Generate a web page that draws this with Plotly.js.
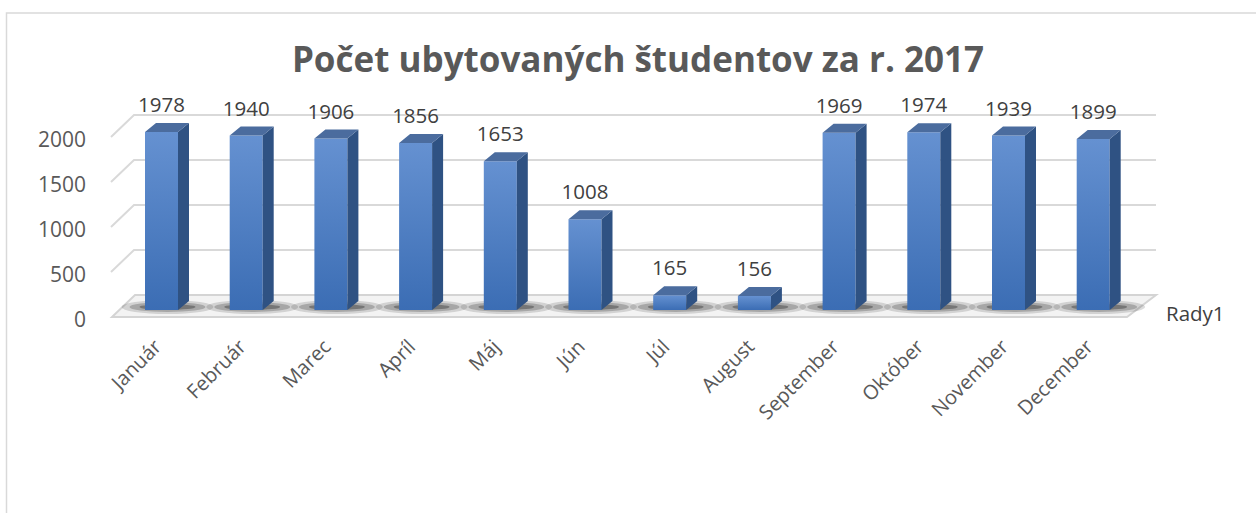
<!DOCTYPE html>
<html>
<head>
<meta charset="utf-8">
<script src="https://cdn.plot.ly/plotly-3.0.1.min.js"></script>
<style>
  html, body { margin: 0; padding: 0; background: #ffffff; }
  #chart { width: 1256px; height: 513px; }
</style>
</head>
<body>
<div id="chart"></div>
<script>
// ---- data ----
const months = ["Január", "Február", "Marec", "Apríl", "Máj", "Jún", "Júl", "August", "September", "Október", "November", "December"];
const students = [1978, 1940, 1906, 1856, 1653, 1008, 165, 156, 1969, 1974, 1939, 1899];
const yTicks = [0, 500, 1000, 1500, 2000];
const seriesName = "Rady1";
const chartTitle = "Počet ubytovaných študentov za r. 2017";

// ---- geometry (pixel <-> data helpers for the 3D look) ----
const W = 1256, H = 513;
const M = { l: 100, r: 96, t: 100, b: 193 };
const plotW = W - M.l - M.r, plotH = H - M.t - M.b;
const x0px = 161.5, xStep = 84.7;           // bar centre of first category, spacing
const yBase = 310, yScale = 0.09;           // bar plane: px = yBase - yScale*v
const X = px => (px - x0px) / xStep;
const Y = py => (yBase - py) / yScale;
const PX = px => (px - M.l) / plotW;         // paper x
const PY = py => (M.t + plotH - py) / plotH; // paper y
const labelBase = 320;                      // front plane for the value-axis labels

const idx = months.map((_, i) => i);
const barW = 33 / xStep;
const ddx = 11 / xStep, ddy = 9 / yScale;   // depth offsets

// side and top faces built from the data
const sideX = [], sideY = [], topX = [], topY = [];
idx.forEach(i => {
  const v = students[i];
  const xl = i - barW / 2, xr = i + barW / 2;
  sideX.push(xr, xr + ddx, xr + ddx, xr, xr, null);
  sideY.push(0, ddy, v + ddy, v, 0, null);
  topX.push(xl, xl + ddx, xr + ddx, xr, xl, null);
  topY.push(v, v + ddy, v + ddy, v, v, null);
});

const font = "Open Sans, sans-serif";

const traces = [
  {
    type: "bar", x: idx, y: students, width: barW, name: seriesName,
    marker: { color: "#4a7cc2", line: { width: 0 } }, showlegend: false, hoverinfo: "x+y"
  },
  {
    type: "scatter", mode: "lines", x: sideX, y: sideY, fill: "toself",
    fillcolor: "#2f5283", line: { width: 0, color: "rgba(0,0,0,0)" }, showlegend: false, hoverinfo: "skip"
  },
  {
    type: "scatter", mode: "lines", x: topX, y: topY, fill: "toself",
    fillcolor: "#4b6c9e", line: { width: 0, color: "rgba(0,0,0,0)" }, showlegend: false, hoverinfo: "skip"
  },
  {
    type: "scatter", mode: "text", x: idx, y: students.map(v => v + 25 / yScale),
    text: students.map(String), textposition: "middle center", cliponaxis: false,
    textfont: { family: font, size: 20.5, color: "#404040" },
    showlegend: false, hoverinfo: "skip"
  },
  // invisible trace to drive the tick-label axis on the front plane
  {
    type: "scatter", mode: "markers", x: [idx[0]], y: [0], yaxis: "y2",
    marker: { opacity: 0 }, showlegend: false, hoverinfo: "skip"
  }
];

// ---- decorations: floor, shadows, back-wall gridlines, border ----
const shapes = [];
// floor
shapes.push({
  type: "path", xref: "x", yref: "y", layer: "below",
  path: `M ${X(112)} ${Y(317)} L ${X(1127)} ${Y(317)} L ${X(1156)} ${Y(295)} L ${X(135)} ${Y(295)} Z`,
  fillcolor: "#f3f3f3", line: { color: "#d4d4d4", width: 2 }
});
// shadows under the bars
idx.forEach(i => {
  const cx = i + 6 / xStep;
  [[46, 7, 0.16], [38, 5, 0.25], [28, 3, 0.38]].forEach(([hw, hh, op]) => {
    shapes.push({
      type: "circle", xref: "x", yref: "y", layer: "below",
      x0: cx - hw / xStep, x1: cx + hw / xStep, y0: Y(307 + hh), y1: Y(307 - hh),
      fillcolor: `rgba(40,40,40,${op})`, line: { width: 0 }
    });
  });
});
// gridlines (side wall diagonal + back wall)
yTicks.forEach(v => {
  if (v === 0) return;
  const fy = 317 - 0.09 * v, by = 295 - 0.09 * v;
  shapes.push({
    type: "path", xref: "x", yref: "y", layer: "below",
    path: `M ${X(111)} ${Y(fy)} L ${X(134)} ${Y(by)} L ${X(1156)} ${Y(by)}`,
    line: { color: "#d9d9d9", width: 2 }
  });
});
// chart border
shapes.push({
  type: "rect", xref: "paper", yref: "paper", layer: "below",
  x0: PX(6.5), x1: PX(1262), y0: PY(520), y1: PY(13),
  line: { color: "#d9d9d9", width: 1.5 }, fillcolor: "rgba(0,0,0,0)"
});

const layout = {
  width: W, height: H,
  margin: M,
  paper_bgcolor: "#ffffff", plot_bgcolor: "rgba(0,0,0,0)",
  showlegend: false,
  title: {
    text: "<b>" + chartTitle + "</b>",
    font: { family: font, size: 35, color: "#595959" },
    x: 638 / W, xref: "container", xanchor: "center",
    y: 1 - 60 / H, yref: "container", yanchor: "middle"
  },
  xaxis: {
    range: [X(M.l), X(W - M.r)], tickvals: idx, ticktext: months, tickangle: -45,
    showgrid: false, zeroline: false, showline: false, ticks: "",
    tickfont: { family: font, size: 20, color: "#595959" },
    ticklabelstandoff: 10, ticklabelshift: -6, fixedrange: true
  },
  yaxis: {
    range: [Y(M.t + plotH), Y(M.t)], visible: false, showgrid: false, zeroline: false, fixedrange: true
  },
  yaxis2: {
    overlaying: "y", side: "left",
    range: [(labelBase - (M.t + plotH)) / 0.09, (labelBase - M.t) / 0.09],
    tickvals: yTicks, ticktext: yTicks.map(String),
    showgrid: false, zeroline: false, showline: false, ticks: "",
    tickfont: { family: font, size: 21, color: "#595959" },
    ticklabelstandoff: 13, fixedrange: true
  },
  annotations: [{
    xref: "paper", yref: "paper", x: PX(1164), y: PY(313), xanchor: "left", yanchor: "middle",
    text: seriesName, showarrow: false, font: { family: font, size: 20.5, color: "#404040" }
  }],
  shapes: shapes
};

Plotly.newPlot("chart", traces, layout, { displayModeBar: false, staticPlot: true }).then(gd => {
  // vertical gradient on the front faces of the columns
  const svg = gd.querySelector(".main-svg");
  const ns = "http://www.w3.org/2000/svg";
  let defs = svg.querySelector("defs");
  if (!defs) { defs = document.createElementNS(ns, "defs"); svg.insertBefore(defs, svg.firstChild); }
  const grad = document.createElementNS(ns, "linearGradient");
  grad.setAttribute("id", "barFrontGrad");
  grad.setAttribute("x1", "0"); grad.setAttribute("y1", "0");
  grad.setAttribute("x2", "0"); grad.setAttribute("y2", "1");
  [["0", "#6591d1"], ["1", "#3b6db4"]].forEach(([o, c]) => {
    const s = document.createElementNS(ns, "stop");
    s.setAttribute("offset", o); s.setAttribute("stop-color", c);
    grad.appendChild(s);
  });
  defs.appendChild(grad);
  gd.querySelectorAll(".barlayer .point path").forEach(p => { p.style.fill = "url(#barFrontGrad)"; });
});
</script>
</body>
</html>
